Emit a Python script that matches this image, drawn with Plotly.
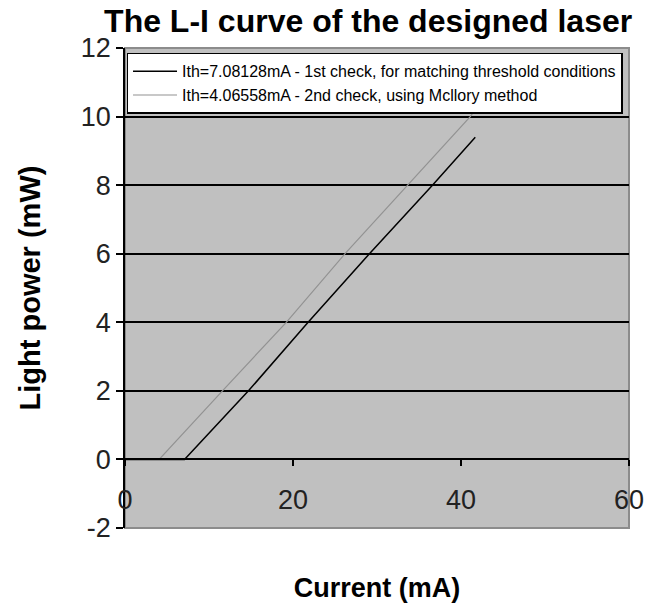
import plotly.graph_objects as go

# L-I characteristic, 1st check (matching threshold conditions)
current_check1 = [0, 7.08128, 14.7, 21.8, 29.1, 36.6, 41.7]
power_check1 = [0, 0, 2, 4, 6, 8, 9.4]

# L-I characteristic, 2nd check (Mcllory method)
current_check2 = [0, 4.06558, 11.6, 19.2, 26.2, 33.6, 41.1, 41.7]
power_check2 = [0, 0, 2, 4, 6, 8, 10, 10.2]

series_names = [
    "Ith=7.08128mA - 1st check, for matching threshold conditions",
    "Ith=4.06558mA - 2nd check, using Mcllory method",
]

x_ticks = [0, 20, 40, 60]
y_ticks = [-2, 0, 2, 4, 6, 8, 10, 12]
y_tick_text = ["-2", "0", "2", "4", "6", "8", "10", "12"]

FONT = "Liberation Sans, Arial, sans-serif"
W, H = 647, 603

fig = go.Figure()
fig.add_trace(go.Scatter(
    x=current_check1, y=power_check1, mode="lines", name=series_names[0],
    line=dict(color="#000000", width=1.5),
))
fig.add_trace(go.Scatter(
    x=current_check2, y=power_check2, mode="lines", name=series_names[1],
    line=dict(color="#929292", width=1.2),
))

# y position of the x axis (at zero power) as a fraction of the plot height
y_min, y_max = -2, 12
zero_pos = (0 - y_min) / (y_max - y_min)

fig.update_layout(
    width=W, height=H,
    margin=dict(l=125, r=18, t=48, b=75),
    paper_bgcolor="white",
    plot_bgcolor="#c0c0c0",
    font=dict(family=FONT, color="#222222"),
    title=dict(
        text="<b>The L-I curve of the designed laser</b>",
        font=dict(size=32, color="#000000", family=FONT),
        x=0.569, xanchor="center", y=0.966, yanchor="middle",
    ),
    xaxis=dict(
        range=[0, 60], tickvals=x_ticks,
        anchor="free", position=zero_pos, automargin=False,
        showline=True, linecolor="#000000", linewidth=1.5,
        ticks="outside", ticklen=6, tickcolor="#000000", tickwidth=1.5,
        ticklabelstandoff=10, tickangle=0,
        tickfont=dict(size=27, color="#222222"),
        showgrid=False, zeroline=False,
        title=dict(text="<b>Current (mA)</b>", font=dict(size=27, color="#000000"),
                   standoff=70),
    ),
    yaxis=dict(
        range=[y_min, y_max], tickvals=y_ticks, ticktext=y_tick_text,
        automargin=False,
        showline=True, linecolor="#000000", linewidth=1.5,
        ticks="outside", ticklen=7, tickcolor="#000000", tickwidth=1.5,
        tickfont=dict(size=27, color="#222222"),
        showgrid=True, gridcolor="#000000", gridwidth=1.5,
        zeroline=False,
        title=dict(text="<b>Light power (mW)</b>", font=dict(size=29, color="#000000"),
                   standoff=32),
    ),
    legend=dict(
        x=0.003, y=0.99, xanchor="left", yanchor="top",
        bgcolor="white", bordercolor="#000000", borderwidth=1.5,
        font=dict(size=16, color="#000000", family=FONT),
        itemwidth=44, tracegroupgap=4,
    ),
    showlegend=True,
)

# plot area frame
fig.add_shape(type="rect", xref="paper", yref="paper", x0=0, y0=0, x1=1, y1=1,
              line=dict(color="#8c8c8c", width=2), layer="below")

fig.write_html("out.html")
